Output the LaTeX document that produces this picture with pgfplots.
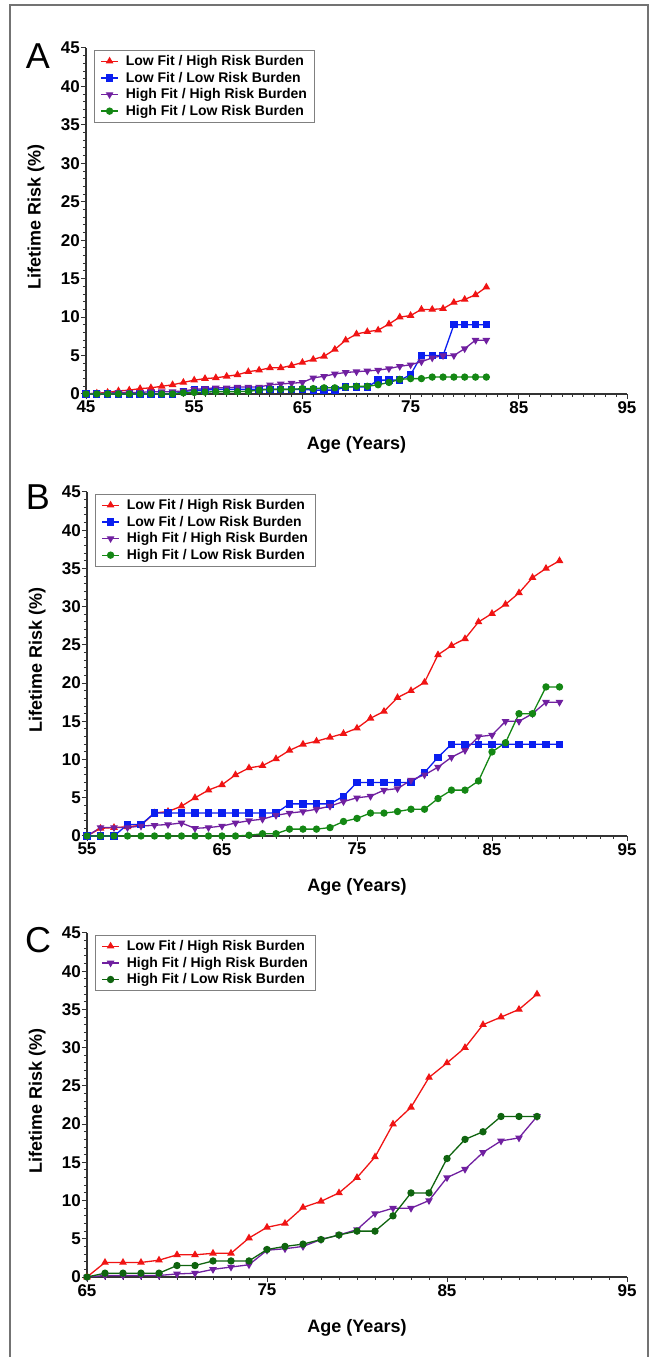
\documentclass[border=0pt]{standalone}
\usepackage{fontspec}
\setmainfont{Liberation Sans}
\usepackage{pgfplots}
\pgfplotsset{compat=1.18}

\definecolor{cRed}{RGB}{240,20,20}
\definecolor{cBlue}{RGB}{10,30,240}
\definecolor{cPurple}{RGB}{112,32,160}
\definecolor{cGreen}{RGB}{20,135,20}
\definecolor{cDkGreen}{RGB}{15,100,15}

\pgfplotsset{
  riskaxis/.style={
    scale only axis, width=541pt, height=346pt,
    ymin=0, ymax=45, xmax=95,
    enlargelimits=false, clip=false,
    axis lines=left,
    axis line style={-, line width=1.5pt, black!80},
    ytick={0,5,...,45}, minor y tick num=4,
    minor x tick num=9,
    tick align=outside, major tick length=5pt, minor tick length=3pt,
    tick style={line width=1pt, black!80},
    /pgf/number format/assume math mode=true,
    tick label style={font=\fontsize{17}{17}\selectfont\bfseries},
    yticklabel style={inner sep=1pt},
    xticklabel style={inner sep=2pt},
    every axis y label/.style={at={(axis description cs:-0.0924,0.512)}, rotate=90,
      anchor=center, font=\fontsize{18}{18}\selectfont\bfseries},
    every axis x label/.style={at={(axis description cs:0.5,0)},
      anchor=center, yshift=-51pt, font=\fontsize{18}{18}\selectfont\bfseries},
    xlabel={Age (Years)}, ylabel={Lifetime Risk (\%)},
    legend cell align=left,
    legend style={at={(0,1)}, anchor=north west, xshift=8pt, yshift=-2pt,
      draw=black!50, line width=0.8pt, fill=white, row sep=3pt,
      inner xsep=6pt, inner ysep=4pt,
      font=\fontsize{14}{16}\selectfont\bfseries,
      nodes={inner sep=1pt},
      /tikz/every odd column/.append style={column sep=6pt}},
  },
  sRed/.style={cRed, line width=1.3pt, mark=triangle*, mark size=3.2pt, mark options={solid}},
  sBlue/.style={cBlue, line width=1.3pt, mark=square*, mark size=3pt},
  sPurple/.style={cPurple, line width=1.3pt, mark=triangle*, mark size=3.2pt, mark options={rotate=180}},
  sGreen/.style={cGreen, line width=1.3pt, mark=*, mark size=3pt},
  sDkGreen/.style={cDkGreen, line width=1.3pt, mark=*, mark size=3pt},
}

\begin{document}
\begin{tikzpicture}
  \path[use as bounding box] (0,0) rectangle (654pt,1357pt);
  % frame round the figure
  \draw[black!55, line width=1.2pt] (10pt,-5pt) -- (10pt,1352pt) -- (648pt,1352pt) -- (648pt,-5pt);

  % Panel A
  \begin{axis}[riskaxis, at={(86pt,963pt)}, anchor=south west,
    xmin=45, xtick={45,55,...,95}]
    \addplot[sRed] coordinates {
      (45,0) (46,0.1) (47,0.2) (48,0.4) (49,0.5) (50,0.7) (51,0.8) (52,1.0)
      (53,1.2) (54,1.5) (55,1.8) (56,2.0) (57,2.1) (58,2.3) (59,2.5) (60,2.9)
      (61,3.1) (62,3.4) (63,3.4) (64,3.7) (65,4.1) (66,4.5) (67,4.9) (68,5.8)
      (69,7.0) (70,7.8) (71,8.1) (72,8.3) (73,9.1) (74,10.0) (75,10.2) (76,11.0)
      (77,11.0) (78,11.1) (79,11.9) (80,12.3) (81,12.9) (82,13.9)
    };
    \addlegendentry{Low Fit / High Risk Burden}
    \addplot[sBlue] coordinates {
      (45,0) (46,0) (47,0) (48,0) (49,0) (50,0) (51,0) (52,0) (53,0) (54,0.3)
      (55,0.5) (56,0.5) (57,0.6) (58,0.6) (59,0.6) (60,0.6) (61,0.6) (62,0.6)
      (63,0.6) (64,0.6) (65,0.6) (66,0.5) (67,0.5) (68,0.5) (69,0.9) (70,0.9)
      (71,0.9) (72,1.8) (73,1.8) (74,1.8) (75,2.5) (76,5.0) (77,5.0) (78,5.0)
      (79,9.0) (80,9.0) (81,9.0) (82,9.0)
    };
    \addlegendentry{Low Fit / Low Risk Burden}
    \addplot[sPurple] coordinates {
      (45,0) (46,0.1) (47,0.1) (48,0.2) (49,0.2) (50,0.2) (51,0.3) (52,0.3)
      (53,0.3) (54,0.4) (55,0.6) (56,0.7) (57,0.8) (58,0.8) (59,0.9) (60,0.9)
      (61,0.9) (62,1.2) (63,1.3) (64,1.4) (65,1.5) (66,2.1) (67,2.3) (68,2.6)
      (69,2.8) (70,2.9) (71,3.0) (72,3.1) (73,3.3) (74,3.6) (75,3.8) (76,4.2)
      (77,4.7) (78,5.0) (79,5.0) (80,5.9) (81,7.0) (82,7.0)
    };
    \addlegendentry{High Fit / High Risk Burden}
    \addplot[sGreen] coordinates {
      (45,0) (46,0) (47,0) (48,0) (49,0) (50,0) (51,0) (52,0) (53,0) (54,0.15)
      (55,0.2) (56,0.25) (57,0.3) (58,0.3) (59,0.3) (60,0.35) (61,0.5) (62,0.6)
      (63,0.6) (64,0.6) (65,0.7) (66,0.7) (67,0.8) (68,0.8) (69,0.9) (70,1.0)
      (71,1.0) (72,1.2) (73,1.5) (74,1.9) (75,2.0) (76,2.0) (77,2.2) (78,2.2)
      (79,2.2) (80,2.2) (81,2.2) (82,2.2)
    };
    \addlegendentry{High Fit / Low Risk Burden}
  \end{axis}
  \node[anchor=base, font=\fontsize{36}{36}\selectfont] at (38pt,1288pt) {A};

  % Panel B
  \begin{axis}[riskaxis, at={(87pt,521pt)}, anchor=south west,
    xmin=55, xtick={55,65,...,95}, height=344pt, width=540pt]
    \addplot[sRed] coordinates {
      (55,0) (56,1.0) (57,1.1) (58,1.2) (59,1.4) (60,3.0) (61,3.2) (62,3.9)
      (63,5.0) (64,6.0) (65,6.7) (66,8.0) (67,8.9) (68,9.2) (69,10.1) (70,11.2)
      (71,12.0) (72,12.4) (73,12.9) (74,13.4) (75,14.1) (76,15.4) (77,16.3)
      (78,18.1) (79,19.0) (80,20.1) (81,23.7) (82,24.9) (83,25.8) (84,28.0)
      (85,29.1) (86,30.3) (87,31.8) (88,33.8) (89,35.0) (90,36.0)
    };
    \addlegendentry{Low Fit / High Risk Burden}
    \addplot[sBlue] coordinates {
      (55,0) (56,0) (57,0) (58,1.5) (59,1.5) (60,3.0) (61,3.0) (62,3.0) (63,3.0)
      (64,3.0) (65,3.0) (66,3.0) (67,3.0) (68,3.0) (69,3.0) (70,4.2) (71,4.2)
      (72,4.2) (73,4.2) (74,5.2) (75,7.0) (76,7.0) (77,7.0) (78,7.0) (79,7.0)
      (80,8.3) (81,10.3) (82,12.0) (83,12.0) (84,12.0) (85,12.0) (86,12.0)
      (87,12.0) (88,12.0) (89,12.0) (90,12.0)
    };
    \addlegendentry{Low Fit / Low Risk Burden}
    \addplot[sPurple] coordinates {
      (55,0) (56,1.1) (57,1.1) (58,1.1) (59,1.3) (60,1.4) (61,1.5) (62,1.7)
      (63,1.0) (64,1.1) (65,1.3) (66,1.7) (67,2.0) (68,2.2) (69,2.7) (70,3.0)
      (71,3.2) (72,3.5) (73,3.9) (74,4.5) (75,5.0) (76,5.2) (77,6.0) (78,6.2)
      (79,7.3) (80,8.0) (81,9.0) (82,10.3) (83,11.2) (84,13.0) (85,13.2)
      (86,15.0) (87,15.0) (88,16.0) (89,17.5) (90,17.5)
    };
    \addlegendentry{High Fit / High Risk Burden}
    \addplot[sGreen] coordinates {
      (55,0) (56,0) (57,0) (58,0) (59,0) (60,0) (61,0) (62,0) (63,0) (64,0)
      (65,0) (66,0) (67,0.1) (68,0.3) (69,0.3) (70,0.9) (71,0.9) (72,0.9)
      (73,1.1) (74,1.9) (75,2.3) (76,3.0) (77,3.0) (78,3.2) (79,3.5) (80,3.5)
      (81,4.9) (82,6.0) (83,6.0) (84,7.2) (85,11.0) (86,12.2) (87,16.0)
      (88,16.0) (89,19.5) (90,19.5)
    };
    \addlegendentry{High Fit / Low Risk Burden}
  \end{axis}
  \node[anchor=base, font=\fontsize{36}{36}\selectfont] at (38pt,847pt) {B};

  % Panel C
  \begin{axis}[riskaxis, at={(87pt,80pt)}, anchor=south west,
    xmin=65, xtick={65,75,...,95}, height=344pt, width=540pt]
    \addplot[sRed] coordinates {
      (65,0) (66,1.9) (67,1.9) (68,1.9) (69,2.2) (70,2.9) (71,2.9) (72,3.1)
      (73,3.1) (74,5.1) (75,6.5) (76,7.0) (77,9.1) (78,9.9) (79,11.0) (80,13.0)
      (81,15.7) (82,20.0) (83,22.2) (84,26.1) (85,28.0) (86,30.0) (87,33.0)
      (88,34.0) (89,35.0) (90,37.0)
    };
    \addlegendentry{Low Fit / High Risk Burden}
    \addplot[sPurple] coordinates {
      (65,0) (66,0.2) (67,0.2) (68,0.2) (69,0.2) (70,0.4) (71,0.5) (72,1.0)
      (73,1.3) (74,1.6) (75,3.5) (76,3.7) (77,4.0) (78,4.9) (79,5.5) (80,6.2)
      (81,8.3) (82,9.0) (83,9.0) (84,10.0) (85,13.0) (86,14.1) (87,16.3)
      (88,17.8) (89,18.2) (90,21.0)
    };
    \addlegendentry{High Fit / High Risk Burden}
    \addplot[sDkGreen] coordinates {
      (65,0) (66,0.5) (67,0.5) (68,0.5) (69,0.5) (70,1.5) (71,1.5) (72,2.1)
      (73,2.1) (74,2.1) (75,3.6) (76,4.0) (77,4.3) (78,4.9) (79,5.5) (80,6.0)
      (81,6.0) (82,8.0) (83,11.0) (84,11.0) (85,15.5) (86,18.0) (87,19.0)
      (88,21.0) (89,21.0) (90,21.0)
    };
    \addlegendentry{High Fit / Low Risk Burden}
  \end{axis}
  \node[anchor=base, font=\fontsize{36}{36}\selectfont] at (38pt,404pt) {C};
\end{tikzpicture}
\end{document}
